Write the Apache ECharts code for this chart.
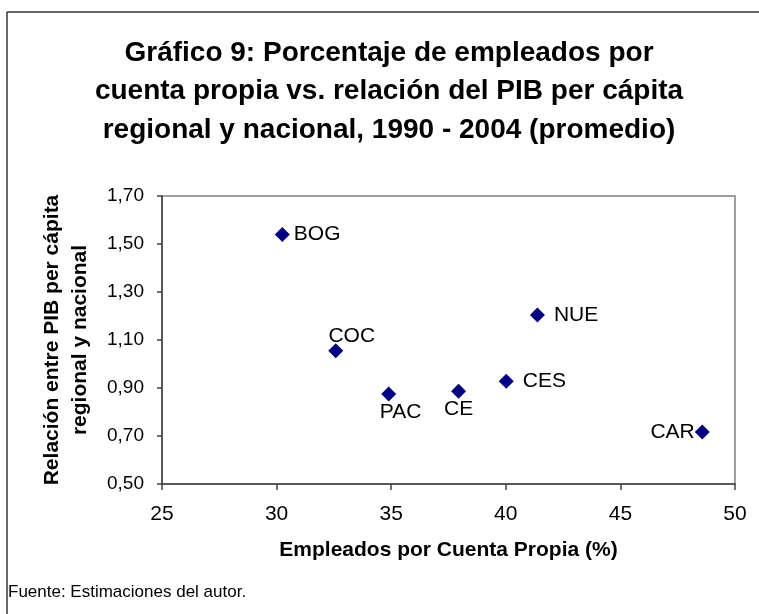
<!DOCTYPE html>
<html>
<head>
<meta charset="utf-8">
<script src="https://cdn.jsdelivr.net/npm/echarts@6/dist/echarts.min.js"></script>
<style>
html,body{margin:0;padding:0;background:#fff;}
#chart{width:759px;height:614px;}
</style>
</head>
<body>
<div id="chart"></div>
<script>
// Data
const regions = ['BOG', 'COC', 'PAC', 'CE', 'CES', 'NUE', 'CAR'];
const empleadosCuentaPropia = [30.25, 32.58, 34.89, 37.94, 40.02, 41.38, 48.57];
const relacionPIB = [1.54, 1.055, 0.875, 0.886, 0.928, 1.204, 0.717];
const xTicks = [25, 30, 35, 40, 45, 50];
const yTicks = [0.5, 0.7, 0.9, 1.1, 1.3, 1.5, 1.7];

const labelPlacement = {
  BOG: {position: 'right', distance: 4, offset: [0, 0]},
  COC: {position: 'top', distance: -3, offset: [16, 0]},
  PAC: {position: 'bottom', distance: 0, offset: [12, 0]},
  CE:  {position: 'bottom', distance: 0, offset: [0, 0]},
  CES: {position: 'right', distance: 9, offset: [0, 0]},
  NUE: {position: 'right', distance: 9, offset: [0, 0]},
  CAR: {position: 'left', distance: 0, offset: [0, 0]}
};

const FONT = '"Liberation Sans", Arial, sans-serif';

const seriesData = regions.map((r, i) => ({
  name: r,
  value: [empleadosCuentaPropia[i], relacionPIB[i]],
  label: Object.assign({show: true, formatter: r}, labelPlacement[r])
}));

const chart = echarts.init(document.getElementById('chart'), null, {renderer: 'canvas'});
chart.setOption({
  animation: false,
  backgroundColor: '#ffffff',
  textStyle: {fontFamily: FONT},
  title: {
    text: 'Gráfico 9: Porcentaje de empleados por\ncuenta propia vs. relación del PIB per cápita\nregional y nacional, 1990 - 2004 (promedio)',
    left: 384,
    top: 29,
    textAlign: 'center',
    textStyle: {fontFamily: FONT, fontSize: 28, fontWeight: 'bold', color: '#000', lineHeight: 38.5}
  },
  grid: {
    left: 162, top: 196, width: 573, height: 288,
    show: true, borderColor: '#808080', borderWidth: 1.5, backgroundColor: 'transparent'
  },
  xAxis: {
    type: 'value', min: 25, max: 50, interval: 5,
    name: 'Empleados por Cuenta Propia (%)',
    nameLocation: 'middle', nameGap: 56,
    nameTextStyle: {fontFamily: FONT, fontSize: 21, fontWeight: 'bold', color: '#000'},
    axisLine: {show: true, lineStyle: {color: '#404040', width: 1.5}},
    axisTick: {show: true, inside: false, length: 6, lineStyle: {color: '#404040', width: 1.5}},
    axisLabel: {fontFamily: FONT, fontSize: 21, color: '#000', margin: 20, customValues: xTicks},
    splitLine: {show: false}
  },
  yAxis: {
    type: 'value', min: 0.5, max: 1.7,
    name: 'Relación entre PIB per cápita\nregional y nacional',
    nameLocation: 'middle', nameGap: 68, nameRotate: 90,
    nameTextStyle: {fontFamily: FONT, fontSize: 21, fontWeight: 'bold', color: '#000', lineHeight: 28},
    axisLine: {show: true, lineStyle: {color: '#404040', width: 1.5}},
    axisTick: {show: true, inside: false, length: 5, lineStyle: {color: '#404040', width: 1.5}, customValues: yTicks},
    axisLabel: {fontFamily: FONT, fontSize: 19, color: '#000', margin: 18,
      customValues: yTicks,
      formatter: v => v.toFixed(2).replace('.', ',')},
    splitLine: {show: false}
  },
  series: [{
    type: 'scatter',
    symbol: 'diamond',
    symbolSize: 15,
    itemStyle: {color: '#000080', opacity: 1},
    label: {fontFamily: FONT, fontSize: 21, color: '#000', opacity: 1},
    emphasis: {disabled: true},
    data: seriesData
  }],
  graphic: [
    {type: 'line', shape: {x1: 7, y1: 12, x2: 759, y2: 12}, style: {stroke: '#333', lineWidth: 1.5}},
    {type: 'line', shape: {x1: 7, y1: 12, x2: 7, y2: 614}, style: {stroke: '#333', lineWidth: 1.5}},
    {type: 'text', left: 8, top: 584, style: {text: 'Fuente: Estimaciones del autor.', font: '17px "Liberation Sans", Arial, sans-serif', fill: '#000'}}
  ]
});
</script>
</body>
</html>
